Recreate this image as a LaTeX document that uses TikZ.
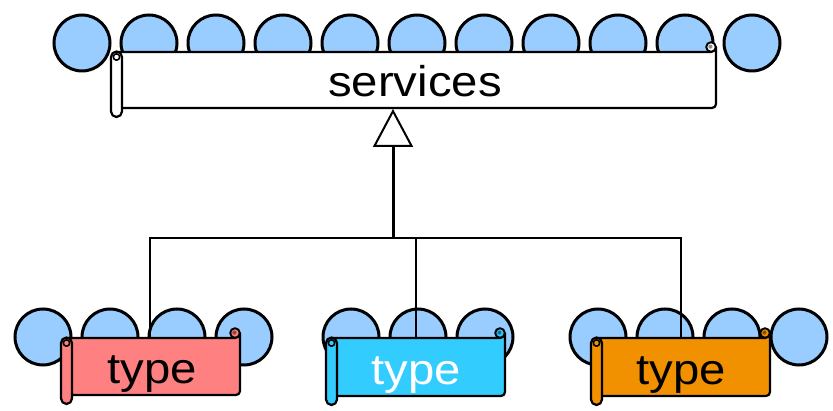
\documentclass[tikz,border=0pt]{standalone}
\usepackage{fontspec}
\setmainfont{Liberation Sans}
\usetikzlibrary{arrows.meta}

\definecolor{bubble}{HTML}{99CCFF}
\definecolor{rose}{HTML}{FF8080}
\definecolor{sky}{HTML}{33CCFF}
\definecolor{amber}{HTML}{F29100}
\definecolor{paper}{HTML}{FFFFFF}

\tikzset{
  bubble/.style={circle, draw=black, line width=3pt, fill=bubble,
    minimum size=56pt, inner sep=0pt},
  outline/.style={draw=black, line width=2.2pt, line join=round},
  caption/.style={font=\fontsize{43}{50}\selectfont, inner sep=0pt, anchor=base},
  branch/.style={draw=black, line width=1.7pt},
  stem/.style={draw=black, line width=3pt,
    -{Triangle[open, length=38pt, width=40pt, line width=2pt]}},
}

% horizontal scroll: #1 tube left, #2 top, #3 right edge, #4 body bottom,
% #5 fill colour, #6 tube bottom
\newcommand\scrollbanner[6]{%
  % body with the rolled-over top right corner
  \filldraw[outline, fill=#5]
    ({#1+6},#2) -- ({#3-5},#2)
    arc[start angle=90, end angle=0, radius=5]
    -- (#3,{#4-4}) arc[start angle=0, end angle=90, radius=4]
    -- ({#1+6},#4) -- cycle;
  % curl on the top right corner
  \filldraw[outline, line width=1.9pt, fill=#5] ({#3-5},{#2-5}) circle[radius=4.8];
  \fill[#5!55!black] ({#3-5.6},{#2-5.4}) circle[radius=2.1];
  % rolled tube on the left
  \filldraw[outline, fill=#5, rounded corners=5.5pt] (#1,{#2-0.5}) rectangle ({#1+11},#6);
  \draw[outline, line width=1.6pt, fill=#5] ({#1+5.5},{#2+5}) circle[radius=3.2];
}

\begin{document}
\begin{tikzpicture}[x=1pt, y=-1pt]
  \useasboundingbox (0,0) rectangle (833,411);

  % rows of circles
  \foreach \i in {0,...,10} \node[bubble] (top-\i) at ({82+67*\i},43) {};
  \foreach \i in {0,...,3}  \node[bubble] (rose-\i) at ({43+67*\i},337) {};
  \foreach \i in {0,...,2}  \node[bubble] (sky-\i) at ({351+67*\i},337) {};
  \foreach \i in {0,...,3}  \node[bubble] (amber-\i) at ({598+67*\i},337) {};

  % connection points of the hierarchy
  \coordinate (svc-foot) at (393,109);
  \coordinate (hub) at (393,238);
  \coordinate (rose-top) at (150,338);
  \coordinate (sky-top) at (416,338);
  \coordinate (amber-top) at (681,338);

  % hierarchy lines
  \draw[branch] (rose-top) |- (hub) -| (amber-top);
  \draw[branch] (hub) -| (sky-top);
  \draw[stem] (hub) -- (svc-foot);

  % banners
  \scrollbanner{111}{52}{716}{108}{paper}{117}
  \scrollbanner{61}{338}{240}{395}{rose}{404}
  \scrollbanner{326}{338}{505}{396}{sky}{405}
  \scrollbanner{591}{338}{770}{396}{amber}{405}

  % labels
  \node[caption] (svc) at (415,97) {\scalebox{1.1}[1]{services}};
  \node[caption] (rose-label) at (152,384) {\scalebox{1.1}[1]{type}};
  \node[caption, text=white] (sky-label) at (416,385) {\scalebox{1.1}[1]{type}};
  \node[caption] (amber-label) at (681,385) {\scalebox{1.1}[1]{type}};
\end{tikzpicture}
\end{document}
